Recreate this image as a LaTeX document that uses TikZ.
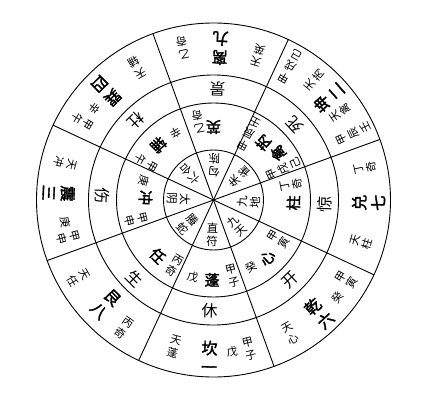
\documentclass[tikz,border=0pt]{standalone}
\usepackage{fontspec}
\newfontfamily\cjk[AutoFakeBold=2]{Noto Sans CJK SC}
\newcommand\lbl[5]{\node[#4,rotate={#2+90}] (#1) at (#2:#3pt) {#5};}
\begin{document}
\begin{tikzpicture}[x=1pt,y=1pt,line width=0.9pt,
  every node/.style={inner sep=0pt,align=center},
  pal/.style={font={\cjk\bfseries\fontsize{16}{19}\selectfont}},
  door/.style={font={\cjk\fontsize{16}{19}\selectfont}},
  star/.style={font={\cjk\bfseries\fontsize{15}{18}\selectfont}},
  small/.style={font={\cjk\fontsize{11}{13}\selectfont}},
  god/.style={font={\cjk\fontsize{11.5}{13}\selectfont}}]
\useasboundingbox (-213.5,-204) rectangle (213.5,200);
\fill[white] (-213.5,-204) rectangle (213.5,200);
\foreach \r in {177,125,97,50} \draw (0,0) circle (\r pt);
\foreach \a in {20,65,...,335} \draw (0,0) -- (\a:177pt);
% gods
\lbl{g0}{268}{35}{god}{直\\符}
\lbl{g1}{312}{35}{god}{九\\天}
\lbl{g2}{357}{35}{god}{九\\地}
\lbl{g3}{42}{35}{god}{朱\\雀}
\lbl{g4}{89}{35}{god}{勾\\陈}
\lbl{g5}{132}{35}{god}{六\\合}
\lbl{g6}{178}{35}{god}{太\\阴}
\lbl{g7}{223}{35}{god}{螣\\蛇}
% stars
\lbl{s0a}{255}{80}{small}{戊}
\lbl{s0b}{269}{80}{star}{蓬}
\lbl{s0c}{284}{78}{small}{甲\\子}
\lbl{s1a}{299}{77}{small}{癸}
\lbl{s1b}{313}{79}{star}{心}
\lbl{s1c}{329}{76}{small}{甲\\寅}
\lbl{s2b}{358}{80}{star}{柱}
\lbl{s2c}{11}{79}{small}{丁\\奇}
\lbl{s3a}{24}{77}{small}{甲\\戌\\己}
\lbl{s3b}{36}{80}{star}{禽}
\lbl{s3c}{49}{76}{star}{芮}
\lbl{s3d}{62}{75}{small}{甲\\辰\\壬}
\lbl{s4b}{90}{73}{star}{英}
\lbl{s4c}{101}{80}{small}{乙\\奇}
\lbl{s5a}{119}{77}{small}{辛}
\lbl{s5b}{135}{78}{star}{辅}
\lbl{s5c}{151}{77}{small}{甲\\午}
\lbl{s6a}{165}{72}{small}{庚}
\lbl{s6b}{178}{68}{star}{冲}
\lbl{s6c}{194}{80}{small}{甲\\申}
\lbl{s7b}{225}{79}{star}{任}
\lbl{s7c}{239}{76}{small}{丙\\奇}
% doors
\lbl{d0}{268}{111}{door}{休}
\lbl{d1}{314}{111}{door}{开}
\lbl{d2}{358}{111}{door}{惊}
\lbl{d3}{43}{111}{door}{死}
\lbl{d4}{88}{111}{door}{景}
\lbl{d5}{134}{111}{door}{杜}
\lbl{d6}{178}{111}{door}{伤}
\lbl{d7}{225}{111}{door}{生}
% outer ring
\lbl{o0a}{255}{152}{small}{天\\蓬}
\lbl{o0b}{268.5}{157}{pal}{坎\\一}
\lbl{o0c}{277}{153}{small}{戊}
\lbl{o0d}{283.5}{153}{small}{甲\\子}
\lbl{o1a}{300}{154}{small}{天\\心}
\lbl{o1b}{313}{155}{pal}{乾\\六}
\lbl{o1c}{322}{158}{small}{癸}
\lbl{o1d}{329}{155}{small}{甲\\寅}
\lbl{o2a}{344}{154}{small}{天\\柱}
\lbl{o2b}{359}{155}{pal}{兑\\七}
\lbl{o2c}{12}{155}{small}{丁\\奇}
\lbl{o3a}{25.5}{155}{small}{甲\\辰\\壬}
\lbl{o3b}{34.5}{154}{small}{天\\禽}
\lbl{o3c}{41.5}{154}{pal}{坤\\二}
\lbl{o3d}{50}{157}{small}{天\\芮}
\lbl{o3e}{60}{154}{small}{甲\\戌\\己}
\lbl{o4a}{73}{151}{small}{天\\英}
\lbl{o4b}{87.5}{152}{pal}{离\\九}
\lbl{o4c}{101.5}{155}{small}{乙\\奇}
\lbl{o5a}{120}{153}{small}{天\\辅}
\lbl{o5b}{134.5}{153}{pal}{巽\\四}
\lbl{o5c}{142.5}{150}{small}{辛}
\lbl{o5d}{149}{153}{small}{甲\\午}
\lbl{o6a}{166}{153}{small}{天\\冲}
\lbl{o6b}{177.5}{155}{pal}{震\\三}
\lbl{o6c}{188.5}{150}{small}{庚}
\lbl{o6d}{194.5}{150}{small}{甲\\申}
\lbl{o7a}{210}{156}{small}{天\\任}
\lbl{o7b}{224}{150}{pal}{艮\\八}
\lbl{o7c}{235}{156}{small}{丙\\奇}
\end{tikzpicture}
\end{document}
